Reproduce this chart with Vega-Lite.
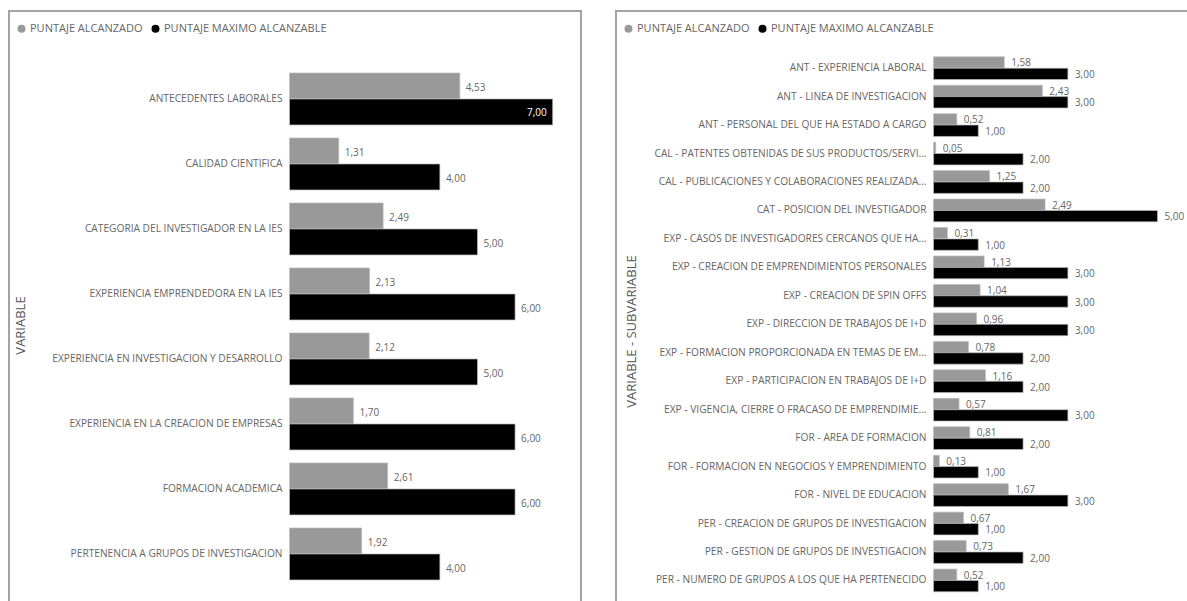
{
  "$schema": "https://vega.github.io/schema/vega-lite/v6.json",
  "padding": {"left": 8, "top": 10, "right": 0, "bottom": 0},
  "background": "white",
  "config": {
    "font": "Open Sans",
    "locale": {"number": {"decimal": ",", "thousands": ".", "grouping": [3], "currency": ["$", ""]}},
    "view": {"stroke": "#a3a3a3", "strokeWidth": 2},
    "concat": {"spacing": 33},
    "axis": {"grid": false, "domain": false, "ticks": false, "labelColor": "#666666", "labelFontSize": 10.2, "labelPadding": 7, "labelLimit": 0, "titleColor": "#555555", "titleFontSize": 13, "titleFontWeight": "normal"},
    "legend": {"orient": "none", "legendX": 7, "legendY": 12, "direction": "horizontal", "title": null, "symbolType": "circle", "symbolSize": 64, "symbolStrokeWidth": 0, "labelFontSize": 11, "labelColor": "#666666", "labelOffset": 3, "labelLimit": 0, "columnPadding": 7, "padding": 0}
  },
  "datasets": {
    "variables": [
      {"variable": "ANTECEDENTES LABORALES", "serie": "PUNTAJE ALCANZADO", "valor": 4.53},
      {"variable": "ANTECEDENTES LABORALES", "serie": "PUNTAJE MAXIMO ALCANZABLE", "valor": 7.00},
      {"variable": "CALIDAD CIENTIFICA", "serie": "PUNTAJE ALCANZADO", "valor": 1.31},
      {"variable": "CALIDAD CIENTIFICA", "serie": "PUNTAJE MAXIMO ALCANZABLE", "valor": 4.00},
      {"variable": "CATEGORIA DEL INVESTIGADOR EN LA IES", "serie": "PUNTAJE ALCANZADO", "valor": 2.49},
      {"variable": "CATEGORIA DEL INVESTIGADOR EN LA IES", "serie": "PUNTAJE MAXIMO ALCANZABLE", "valor": 5.00},
      {"variable": "EXPERIENCIA EMPRENDEDORA EN LA IES", "serie": "PUNTAJE ALCANZADO", "valor": 2.13},
      {"variable": "EXPERIENCIA EMPRENDEDORA EN LA IES", "serie": "PUNTAJE MAXIMO ALCANZABLE", "valor": 6.00},
      {"variable": "EXPERIENCIA EN INVESTIGACION Y DESARROLLO", "serie": "PUNTAJE ALCANZADO", "valor": 2.12},
      {"variable": "EXPERIENCIA EN INVESTIGACION Y DESARROLLO", "serie": "PUNTAJE MAXIMO ALCANZABLE", "valor": 5.00},
      {"variable": "EXPERIENCIA EN LA CREACION DE EMPRESAS", "serie": "PUNTAJE ALCANZADO", "valor": 1.70},
      {"variable": "EXPERIENCIA EN LA CREACION DE EMPRESAS", "serie": "PUNTAJE MAXIMO ALCANZABLE", "valor": 6.00},
      {"variable": "FORMACION ACADEMICA", "serie": "PUNTAJE ALCANZADO", "valor": 2.61},
      {"variable": "FORMACION ACADEMICA", "serie": "PUNTAJE MAXIMO ALCANZABLE", "valor": 6.00},
      {"variable": "PERTENENCIA A GRUPOS DE INVESTIGACION", "serie": "PUNTAJE ALCANZADO", "valor": 1.92},
      {"variable": "PERTENENCIA A GRUPOS DE INVESTIGACION", "serie": "PUNTAJE MAXIMO ALCANZABLE", "valor": 4.00}
    ],
    "subvariables": [
      {"variable": "ANT - EXPERIENCIA LABORAL", "serie": "PUNTAJE ALCANZADO", "valor": 1.58},
      {"variable": "ANT - EXPERIENCIA LABORAL", "serie": "PUNTAJE MAXIMO ALCANZABLE", "valor": 3.00},
      {"variable": "ANT - LINEA DE INVESTIGACION", "serie": "PUNTAJE ALCANZADO", "valor": 2.43},
      {"variable": "ANT - LINEA DE INVESTIGACION", "serie": "PUNTAJE MAXIMO ALCANZABLE", "valor": 3.00},
      {"variable": "ANT - PERSONAL DEL QUE HA ESTADO A CARGO", "serie": "PUNTAJE ALCANZADO", "valor": 0.52},
      {"variable": "ANT - PERSONAL DEL QUE HA ESTADO A CARGO", "serie": "PUNTAJE MAXIMO ALCANZABLE", "valor": 1.00},
      {"variable": "CAL - PATENTES OBTENIDAS DE SUS PRODUCTOS/SERVI...", "serie": "PUNTAJE ALCANZADO", "valor": 0.05},
      {"variable": "CAL - PATENTES OBTENIDAS DE SUS PRODUCTOS/SERVI...", "serie": "PUNTAJE MAXIMO ALCANZABLE", "valor": 2.00},
      {"variable": "CAL - PUBLICACIONES Y COLABORACIONES REALIZADA...", "serie": "PUNTAJE ALCANZADO", "valor": 1.25},
      {"variable": "CAL - PUBLICACIONES Y COLABORACIONES REALIZADA...", "serie": "PUNTAJE MAXIMO ALCANZABLE", "valor": 2.00},
      {"variable": "CAT - POSICION DEL INVESTIGADOR", "serie": "PUNTAJE ALCANZADO", "valor": 2.49},
      {"variable": "CAT - POSICION DEL INVESTIGADOR", "serie": "PUNTAJE MAXIMO ALCANZABLE", "valor": 5.00},
      {"variable": "EXP - CASOS DE INVESTIGADORES CERCANOS QUE HA...", "serie": "PUNTAJE ALCANZADO", "valor": 0.31},
      {"variable": "EXP - CASOS DE INVESTIGADORES CERCANOS QUE HA...", "serie": "PUNTAJE MAXIMO ALCANZABLE", "valor": 1.00},
      {"variable": "EXP - CREACION DE EMPRENDIMIENTOS PERSONALES", "serie": "PUNTAJE ALCANZADO", "valor": 1.13},
      {"variable": "EXP - CREACION DE EMPRENDIMIENTOS PERSONALES", "serie": "PUNTAJE MAXIMO ALCANZABLE", "valor": 3.00},
      {"variable": "EXP - CREACION DE SPIN OFFS", "serie": "PUNTAJE ALCANZADO", "valor": 1.04},
      {"variable": "EXP - CREACION DE SPIN OFFS", "serie": "PUNTAJE MAXIMO ALCANZABLE", "valor": 3.00},
      {"variable": "EXP - DIRECCION DE TRABAJOS DE I+D", "serie": "PUNTAJE ALCANZADO", "valor": 0.96},
      {"variable": "EXP - DIRECCION DE TRABAJOS DE I+D", "serie": "PUNTAJE MAXIMO ALCANZABLE", "valor": 3.00},
      {"variable": "EXP - FORMACION PROPORCIONADA EN TEMAS DE EM...", "serie": "PUNTAJE ALCANZADO", "valor": 0.78},
      {"variable": "EXP - FORMACION PROPORCIONADA EN TEMAS DE EM...", "serie": "PUNTAJE MAXIMO ALCANZABLE", "valor": 2.00},
      {"variable": "EXP - PARTICIPACION EN TRABAJOS DE I+D", "serie": "PUNTAJE ALCANZADO", "valor": 1.16},
      {"variable": "EXP - PARTICIPACION EN TRABAJOS DE I+D", "serie": "PUNTAJE MAXIMO ALCANZABLE", "valor": 2.00},
      {"variable": "EXP - VIGENCIA, CIERRE O FRACASO DE EMPRENDIMIE...", "serie": "PUNTAJE ALCANZADO", "valor": 0.57},
      {"variable": "EXP - VIGENCIA, CIERRE O FRACASO DE EMPRENDIMIE...", "serie": "PUNTAJE MAXIMO ALCANZABLE", "valor": 3.00},
      {"variable": "FOR - AREA DE FORMACION", "serie": "PUNTAJE ALCANZADO", "valor": 0.81},
      {"variable": "FOR - AREA DE FORMACION", "serie": "PUNTAJE MAXIMO ALCANZABLE", "valor": 2.00},
      {"variable": "FOR - FORMACION EN NEGOCIOS Y EMPRENDIMIENTO", "serie": "PUNTAJE ALCANZADO", "valor": 0.13},
      {"variable": "FOR - FORMACION EN NEGOCIOS Y EMPRENDIMIENTO", "serie": "PUNTAJE MAXIMO ALCANZABLE", "valor": 1.00},
      {"variable": "FOR - NIVEL DE EDUCACION", "serie": "PUNTAJE ALCANZADO", "valor": 1.67},
      {"variable": "FOR - NIVEL DE EDUCACION", "serie": "PUNTAJE MAXIMO ALCANZABLE", "valor": 3.00},
      {"variable": "PER - CREACION DE GRUPOS DE INVESTIGACION", "serie": "PUNTAJE ALCANZADO", "valor": 0.67},
      {"variable": "PER - CREACION DE GRUPOS DE INVESTIGACION", "serie": "PUNTAJE MAXIMO ALCANZABLE", "valor": 1.00},
      {"variable": "PER - GESTION DE GRUPOS DE INVESTIGACION", "serie": "PUNTAJE ALCANZADO", "valor": 0.73},
      {"variable": "PER - GESTION DE GRUPOS DE INVESTIGACION", "serie": "PUNTAJE MAXIMO ALCANZABLE", "valor": 2.00},
      {"variable": "PER - NUMERO DE GRUPOS A LOS QUE HA PERTENECIDO", "serie": "PUNTAJE ALCANZADO", "valor": 0.52},
      {"variable": "PER - NUMERO DE GRUPOS A LOS QUE HA PERTENECIDO", "serie": "PUNTAJE MAXIMO ALCANZABLE", "valor": 1.00}
    ]
  },
  "resolve": {"scale": {"color": "independent", "x": "independent", "y": "independent", "yOffset": "independent"}, "legend": {"color": "independent"}},
  "hconcat": [
    {
      "width": 572,
      "height": 592,
      "data": {"name": "variables"},
      "encoding": {
        "y": {"field": "variable", "type": "nominal", "sort": null,
          "scale": {"paddingInner": 0.2, "paddingOuter": 0.654, "align": 0.729},
          "axis": {"offset": -280, "title": "VARIABLE", "titleX": -262, "titleY": 314}},
        "yOffset": {"field": "serie", "type": "nominal", "sort": ["PUNTAJE ALCANZADO", "PUNTAJE MAXIMO ALCANZABLE"]},
        "x": {"field": "valor", "type": "quantitative", "scale": {"domain": [-7.46, 7.753], "nice": false, "zero": false}, "axis": null}
      },
      "layer": [
        {
          "mark": {"type": "bar", "stroke": "#bdbdbd", "strokeWidth": 0.7},
          "encoding": {
            "x2": {"datum": 0},
            "color": {"field": "serie", "type": "nominal", "sort": ["PUNTAJE ALCANZADO", "PUNTAJE MAXIMO ALCANZABLE"],
              "scale": {"domain": ["PUNTAJE ALCANZADO", "PUNTAJE MAXIMO ALCANZABLE"], "range": ["#999999", "#000000"]}}
          }
        },
        {
          "transform": [{"filter": "datum.valor < 7"}],
          "mark": {"type": "text", "align": "left", "baseline": "middle", "dx": 6, "dy": 2, "fontSize": 10, "color": "#666666"},
          "encoding": {"text": {"field": "valor", "type": "quantitative", "format": ".2f"}}
        },
        {
          "transform": [{"filter": "datum.valor >= 7"}],
          "mark": {"type": "text", "align": "right", "baseline": "middle", "dx": -6, "dy": 1, "fontSize": 10, "color": "#ffffff"},
          "encoding": {"text": {"field": "valor", "type": "quantitative", "format": ".2f"}}
        }
      ]
    },
    {
      "width": 573,
      "height": 592,
      "data": {"name": "subvariables"},
      "encoding": {
        "y": {"field": "variable", "type": "nominal", "sort": null,
          "scale": {"paddingInner": 0.2, "paddingOuter": 1.067, "align": 0.804},
          "axis": {"offset": -317, "title": "VARIABLE - SUBVARIABLE", "titleX": -295, "titleY": 320}},
        "yOffset": {"field": "serie", "type": "nominal", "sort": ["PUNTAJE ALCANZADO", "PUNTAJE MAXIMO ALCANZABLE"]},
        "x": {"field": "valor", "type": "quantitative", "scale": {"domain": [-7.087, 5.703], "nice": false, "zero": false}, "axis": null}
      },
      "layer": [
        {
          "mark": {"type": "bar", "stroke": "#bdbdbd", "strokeWidth": 0.7},
          "encoding": {
            "x2": {"datum": 0},
            "color": {"field": "serie", "type": "nominal", "sort": ["PUNTAJE ALCANZADO", "PUNTAJE MAXIMO ALCANZABLE"],
              "scale": {"domain": ["PUNTAJE ALCANZADO", "PUNTAJE MAXIMO ALCANZABLE"], "range": ["#999999", "#000000"]}}
          }
        },
        {
          "mark": {"type": "text", "align": "left", "baseline": "middle", "dx": 7, "dy": 1, "fontSize": 10, "color": "#666666"},
          "encoding": {"text": {"field": "valor", "type": "quantitative", "format": ".2f"}}
        }
      ]
    }
  ]
}
